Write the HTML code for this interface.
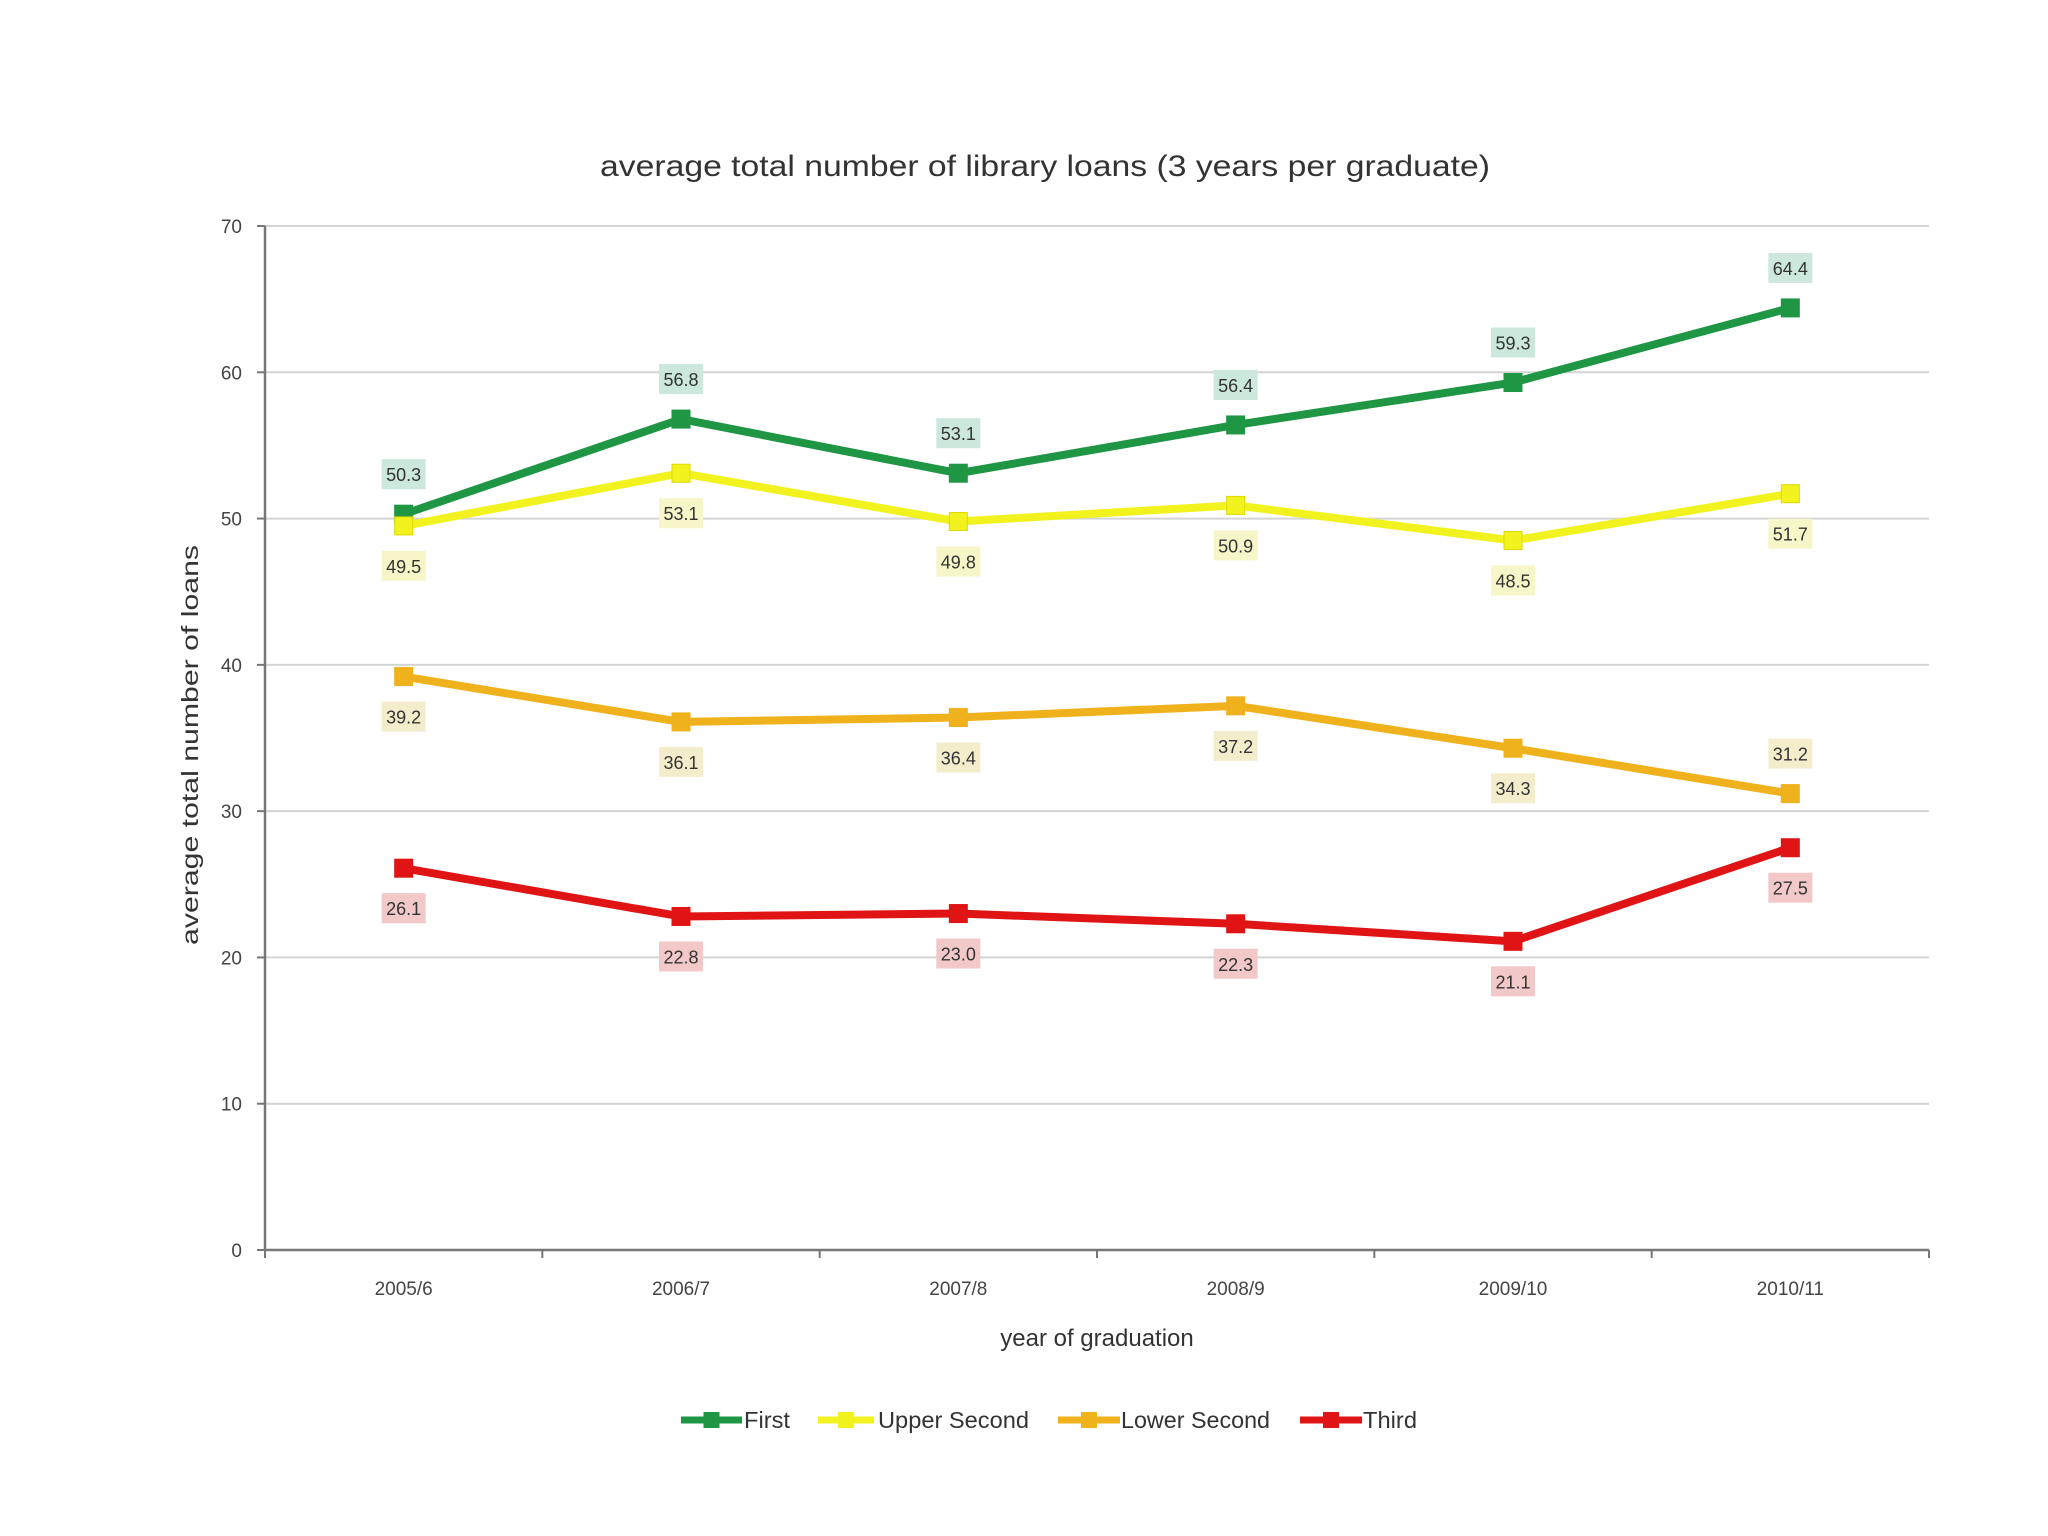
<!DOCTYPE html>
<html><head><meta charset="utf-8"><style>
html,body{margin:0;padding:0;background:#fff;}
svg{display:block;font-family:"Liberation Sans",sans-serif;}
</style></head><body>
<svg width="2048" height="1536" viewBox="0 0 2048 1536">
<text x="1045" y="176" text-anchor="middle" font-size="30" fill="#333" textLength="890" lengthAdjust="spacingAndGlyphs">average total number of library loans (3 years per graduate)</text>
<g id="grid"></g>
<g id="axes"></g>
<g id="series"></g>
<text transform="translate(198,745) rotate(-90)" text-anchor="middle" font-size="23" fill="#333" textLength="400" lengthAdjust="spacingAndGlyphs">average total number of loans</text>
<text x="1097" y="1346" text-anchor="middle" font-size="24" fill="#333">year of graduation</text>
<g id="legend"></g>
</svg>
<script>
const categories=["2005/6","2006/7","2007/8","2008/9","2009/10","2010/11"];
const seriesNames=["First","Upper Second","Lower Second","Third"];
const firstVals=[50.3,56.8,53.1,56.4,59.3,64.4];
const upperVals=[49.5,53.1,49.8,50.9,48.5,51.7];
const lowerVals=[39.2,36.1,36.4,37.2,34.3,31.2];
const thirdVals=[26.1,22.8,23.0,22.3,21.1,27.5];
const yTicks=[0,10,20,30,40,50,60,70];
const labelSide=[[-1,-1,-1,-1,-1,-1],[1,1,1,1,1,1],[1,1,1,1,1,-1],[1,1,1,1,1,1]];
const colors=["#1e9644","#f2f21e","#f0b21c","#e01414"];
const boxColors=["#cce8dc","#f6f6c8","#f4edcc","#f2c8c8"];
const L=265,R=1929,T=226,B=1250;
const NS="http://www.w3.org/2000/svg";
const xs=i=>L+(i+0.5)*(R-L)/categories.length;
const ys=v=>B-(v/70)*(B-T);
function mk(tag,attrs,parent){const e=document.createElementNS(NS,tag);for(const k in attrs)e.setAttribute(k,attrs[k]);parent.appendChild(e);return e;}
const grid=document.getElementById('grid'),axes=document.getElementById('axes'),ser=document.getElementById('series'),leg=document.getElementById('legend');
yTicks.forEach(t=>{
  if(t>0){const g=mk('line',{x1:L,x2:R,y1:ys(t),y2:ys(t),stroke:'#d4d4d4','stroke-width':2},grid);
  
  }
  mk('line',{x1:L-8,x2:L,y1:ys(t),y2:ys(t),stroke:'#777','stroke-width':2},axes);
  const tx=mk('text',{x:L-23,y:ys(t)+7,'text-anchor':'end','font-size':19,fill:'#444'},axes);
  tx.textContent=t;
  
  
});
const ya=mk('line',{x1:L,x2:L,y1:T,y2:B,stroke:'#777','stroke-width':2.5},axes);


const xa=mk('line',{x1:L,x2:R,y1:B,y2:B,stroke:'#777','stroke-width':2.5},axes);


for(let i=0;i<=categories.length;i++){mk('line',{x1:L+i*(R-L)/categories.length,x2:L+i*(R-L)/categories.length,y1:B,y2:B+8,stroke:'#777','stroke-width':2},axes);}
categories.forEach((c,i)=>{const t=mk('text',{x:xs(i),y:B+45,'text-anchor':'middle','font-size':19,fill:'#444'},axes);t.textContent=c;

});
const all=[firstVals,upperVals,lowerVals,thirdVals];
all.forEach((vals,s)=>{
  const g=mk('g',{},ser);
  
  
  const p=mk('polyline',{points:vals.map((v,i)=>xs(i)+','+ys(v)).join(' '),fill:'none',stroke:colors[s],'stroke-width':8,'stroke-linejoin':'round'},g);
  
  
  vals.forEach((v,i)=>{
    const m=mk('rect',{x:xs(i)-9,y:ys(v)-9,width:18,height:18,fill:colors[s],stroke:s==1?'#e0d800':colors[s]},g);
    
    
    const ly=ys(v)+labelSide[s][i]*40;
    const b=mk('rect',{x:xs(i)-22,y:ly-15,width:44,height:30,fill:boxColors[s]},g);
    
    
    const t=mk('text',{x:xs(i),y:ly+7,'text-anchor':'middle','font-size':18,fill:'#333'},g);
    t.textContent=v.toFixed(1);
    
    
  });
});
const legX=[[681,742,744,46],[818,874,878,151],[1058,1120,1121,149],[1300,1362,1363,54]];
seriesNames.forEach((n,s)=>{
  const g=mk('g',{},leg);
  
  
  const [a,b,tx,tl]=legX[s];
  mk('line',{x1:a,x2:b,y1:1420,y2:1420,stroke:colors[s],'stroke-width':7},g);
  mk('rect',{x:(a+b)/2-8,y:1412,width:16,height:16,fill:colors[s]},g);
  const t=mk('text',{x:tx,y:1428,'font-size':23,fill:'#333',textLength:tl,lengthAdjust:'spacingAndGlyphs'},g);t.textContent=n;
});
</script>
</body></html>
